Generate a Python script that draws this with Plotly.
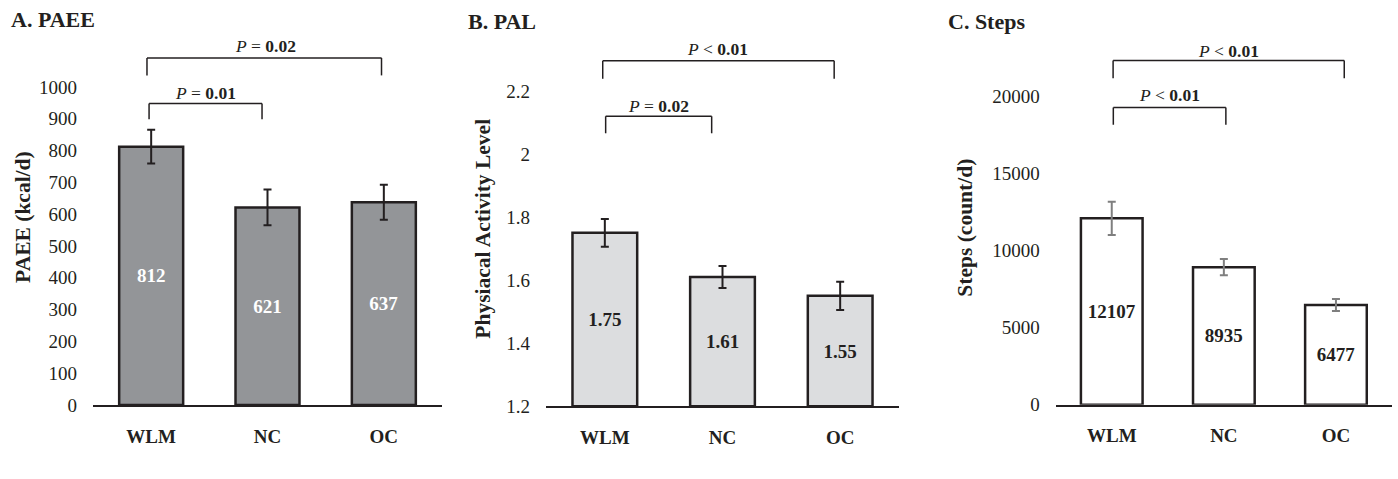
import plotly.graph_objects as go

categories = ["WLM", "NC", "OC"]
paee = [812, 621, 637]
paee_err = [53, 56, 55]
pal = [1.75, 1.61, 1.55]
pal_err = [0.044, 0.035, 0.045]
steps = [12107, 8935, 6477]
steps_err = [1080, 530, 390]

paee_ticks = [0, 100, 200, 300, 400, 500, 600, 700, 800, 900, 1000]
pal_ticks = [1.2, 1.4, 1.6, 1.8, 2.0, 2.2]
pal_ticklabels = ["1.2", "1.4", "1.6", "1.8", "2", "2.2"]
steps_ticks = [0, 5000, 10000, 15000, 20000]

# significance brackets: (x_left, x_right, y_top, y_bottom, label, label_x, label_y)
paee_sig = [(-0.036, 1.98, 1091, 1036, "<i>P</i> = <b>0.02</b>", 0.979, 1127),
            (-0.018, 0.953, 948, 898, "<i>P</i> = <b>0.01</b>", 0.463, 981)]
pal_sig = [(-0.018, 1.949, 2.296, 2.239, "<i>P</i> < <b>0.01</b>", 0.961, 2.334),
           (0.007, 0.908, 2.120, 2.066, "<i>P</i> = <b>0.02</b>", 0.46, 2.153)]
steps_sig = [(0.012, 2.074, 22347, 21205, "<i>P</i> < <b>0.01</b>", 1.038, 22962),
             (0.014, 1.018, 19302, 18180, "<i>P</i> < <b>0.01</b>", 0.518, 20108)]

FONT = "Liberation Serif"
DARK = "#231f20"
W, H = 1398, 479

fig = go.Figure()

panels = [
    dict(vals=paee, err=paee_err, fill="#939598", txt="white", errc=DARK, base=0,
         xdom=[93 / W, 442 / W], ydom=[(H - 414.5) / H, 1], yr=[0, 1273],
         tv=paee_ticks, tt=[str(v) for v in paee_ticks], sig=paee_sig,
         title="A. PAEE", tx=9, ty=20, ytitle="PAEE (kcal/d)", ytx=23, yty=222),
    dict(vals=pal, err=pal_err, fill="#dcdddf", txt=DARK, errc=DARK, base=1.2,
         xdom=[546 / W, 899 / W], ydom=[(H - 415.7) / H, 1], yr=[1.2, 2.489],
         tv=pal_ticks, tt=pal_ticklabels, sig=pal_sig,
         title="B. PAL", tx=466, ty=22, ytitle="Physiacal Activity Level", ytx=483, yty=234),
    dict(vals=steps, err=steps_err, fill="white", txt=DARK, errc="#7f7f7f", base=0,
         xdom=[1055.7 / W, 1392 / W], ydom=[(H - 414.3) / H, 1], yr=[0, 26280],
         tv=steps_ticks, tt=[str(v) for v in steps_ticks], sig=steps_sig,
         title="C. Steps", tx=946, ty=22, ytitle="Steps (count/d)", ytx=965, yty=233),
]

for i, p in enumerate(panels):
    n = "" if i == 0 else str(i + 1)
    xa, ya = "x" + n, "y" + n
    base = p["base"]
    fig.add_trace(go.Bar(
        x=categories, y=[v - base for v in p["vals"]], base=base,
        xaxis=xa, yaxis=ya, width=0.55,
        marker=dict(color=p["fill"], line=dict(color=DARK, width=2.5)),
        error_y=dict(type="data", array=p["err"], color=p["errc"], thickness=2, width=4),
        text=[f"{v:g}" for v in p["vals"]], textposition="inside", insidetextanchor="middle",
        textangle=0, constraintext="none",
        textfont=dict(family=FONT, size=19, color=p["txt"], weight="bold"),
        showlegend=False, hoverinfo="skip",
    ))
    fig.update_layout(**{
        "xaxis" + n: dict(domain=p["xdom"], anchor=ya, type="category", range=[-0.5, 2.5],
                          showline=True, linecolor=DARK, linewidth=1.5, ticks="",
                          showgrid=False, zeroline=False, ticklabelstandoff=13,
                          tickfont=dict(family=FONT, size=19, color=DARK, weight="bold")),
        "yaxis" + n: dict(domain=p["ydom"], anchor=xa, range=p["yr"], showline=False,
                          showgrid=False, zeroline=False, ticks="", tickvals=p["tv"],
                          ticktext=p["tt"], ticklabelstandoff=15,
                          tickfont=dict(family=FONT, size=19, color=DARK)),
    })
    for (x0, x1, yt, yb, lab, lx, ly) in p["sig"]:
        fig.add_shape(type="line", xref=xa, yref=ya, x0=x0, x1=x0, y0=yb, y1=yt,
                      line=dict(color=DARK, width=1.5))
        fig.add_shape(type="line", xref=xa, yref=ya, x0=x0, x1=x1, y0=yt, y1=yt,
                      line=dict(color=DARK, width=1.5))
        fig.add_shape(type="line", xref=xa, yref=ya, x0=x1, x1=x1, y0=yb, y1=yt,
                      line=dict(color=DARK, width=1.5))
        fig.add_annotation(xref=xa, yref=ya, x=lx, y=ly, text=lab, showarrow=False,
                           yanchor="middle", font=dict(family=FONT, size=17.5, color=DARK))
    fig.add_annotation(xref="paper", yref="paper", x=p["tx"] / W, y=1 - p["ty"] / H,
                       xanchor="left", yanchor="middle", text="<b>" + p["title"] + "</b>",
                       showarrow=False, font=dict(family=FONT, size=22, color=DARK))
    fig.add_annotation(xref="paper", yref="paper", x=p["ytx"] / W, y=1 - p["yty"] / H,
                       xanchor="center", yanchor="middle", text="<b>" + p["ytitle"] + "</b>",
                       textangle=-90, showarrow=False,
                       font=dict(family=FONT, size=21.5, color=DARK))

fig.update_layout(width=W, height=H, margin=dict(l=0, r=0, t=0, b=0),
                  plot_bgcolor="white", paper_bgcolor="white", bargap=0.45)

fig.write_html("out.html", config={"responsive": False, "displayModeBar": False},
               post_script="document.body.style.margin='0';document.body.style.overflow='hidden';")
